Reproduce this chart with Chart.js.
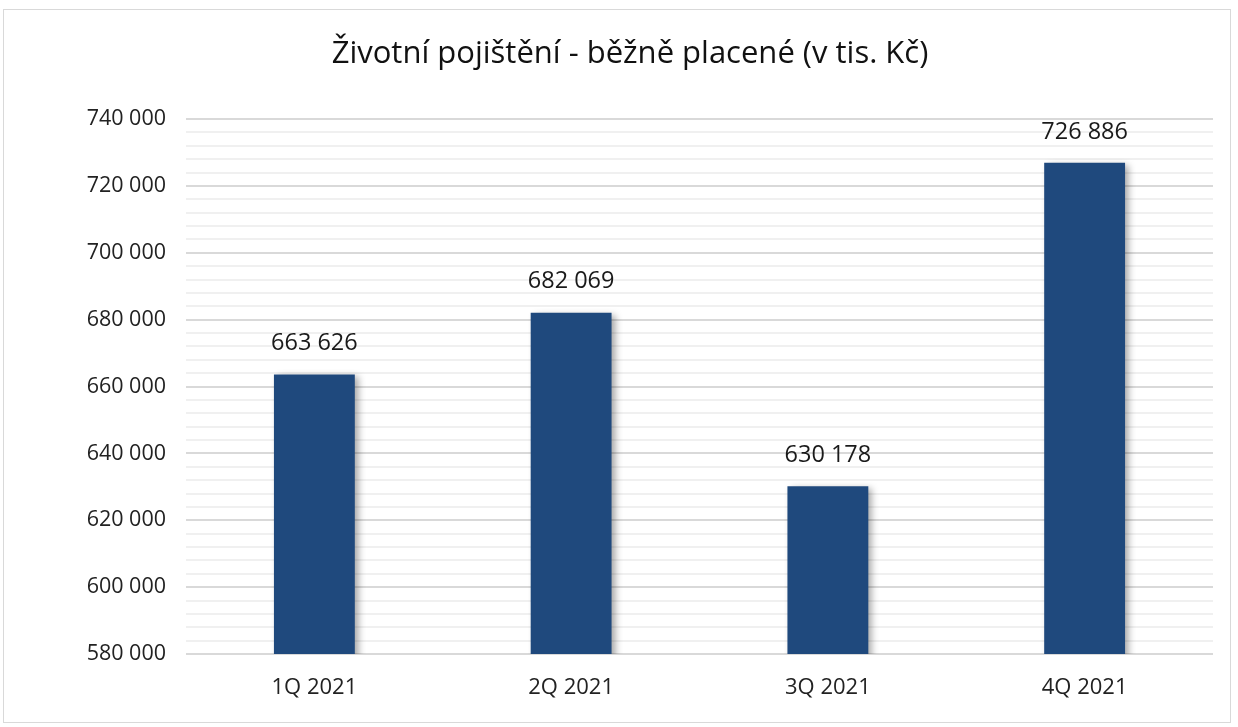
<!DOCTYPE html>
<html>
<head>
<meta charset="utf-8">
<script src="https://cdn.jsdelivr.net/npm/chart.js@4/dist/chart.umd.min.js"></script>
<style>
html,body{margin:0;padding:0;background:#fff;}
#wrap{position:absolute;left:0;top:0;width:1238px;height:727px;}
#frame{position:absolute;left:3px;top:9px;width:1228px;height:714px;border:1px solid #d9d9d9;box-sizing:border-box;}
canvas{position:absolute;left:0;top:0;}
</style>
</head>
<body>
<div id="wrap"><div id="frame"></div><canvas id="c" width="1238" height="727"></canvas></div>
<script>
const categories = ["1Q 2021", "2Q 2021", "3Q 2021", "4Q 2021"];
const values = [663626, 682069, 630178, 726886];
const titleText = "Životní pojištění - běžně placené (v tis. Kč)";
const yMin = 580000, yMax = 740000, yMajor = 20000, yMinor = 4000;

function fmt(v){ return String(Math.round(v)).replace(/\B(?=(\d{3})+(?!\d))/g, " "); }

const FONT = "'Open Sans', sans-serif";

const titleDraw = {
  id: 'titleDraw',
  afterDraw(chart){
    const ctx = chart.ctx;
    ctx.save();
    ctx.fillStyle = '#111';
    ctx.font = "31px " + FONT;
    ctx.textAlign = 'center';
    ctx.textBaseline = 'middle';
    ctx.fillText(titleText, 630, 54);
    ctx.restore();
  }
};
const barLabels = {
  id: 'barLabels',
  afterDatasetsDraw(chart){
    const ctx = chart.ctx;
    const meta = chart.getDatasetMeta(0);
    ctx.save();
    ctx.fillStyle = '#1a1a1a';
    ctx.font = "23.5px " + FONT;
    ctx.textAlign = 'center';
    ctx.textBaseline = 'middle';
    meta.data.forEach((bar, i) => {
      ctx.fillText(fmt(values[i]), bar.x, bar.y - 31);
    });
    ctx.restore();
  }
};
const barShadow = {
  id: 'barShadow',
  beforeDatasetsDraw(chart){
    const ctx = chart.ctx;
    ctx.save();
    ctx.shadowColor = 'rgba(0,0,0,0.35)';
    ctx.shadowBlur = 7;
    ctx.shadowOffsetX = 4;
    ctx.shadowOffsetY = 2;
  },
  afterDatasetsDraw(chart){ chart.ctx.restore(); }
};

new Chart(document.getElementById('c'), {
  type: 'bar',
  data: {
    labels: categories,
    datasets: [{
      data: values,
      backgroundColor: '#1f497d',
      categoryPercentage: 1,
      barPercentage: 0.315,
      borderWidth: 0
    }]
  },
  options: {
    responsive: false,
    animation: false,
    layout: { padding: { left: 0, right: 25, top: 119, bottom: 0 } },
    plugins: {
      legend: { display: false },
      tooltip: { enabled: false },
      title: { display: false }
    },
    scales: {
      x: {
        grid: { display: false },
        border: { display: false },
        ticks: { color: '#222', font: { family: FONT, size: 22 }, padding: 13 },
        afterFit(s){ s.height = 73; }
      },
      y: {
        min: yMin, max: yMax,
        border: { display: false },
        grid: {
          drawTicks: false,
          color: ctx => (ctx.tick && ctx.tick.value % yMajor === 0) ? '#d9d9d9' : '#f0f0f0',
          lineWidth: 2
        },
        ticks: {
          stepSize: yMinor,
          autoSkip: false,
          padding: 20,
          color: '#222',
          font: { family: FONT, size: 21.5 },
          callback: v => (v % yMajor === 0) ? fmt(v) : ''
        },
        afterFit(s){ s.width = 186; }
      }
    }
  },
  plugins: [barShadow, barLabels, titleDraw]
});
</script>
</body>
</html>
